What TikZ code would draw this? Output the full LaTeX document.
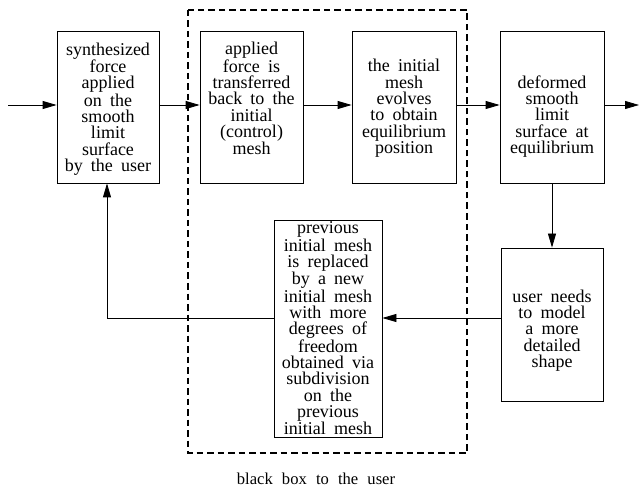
\documentclass[tikz,border=0pt]{standalone}
\usepackage{fontspec}
\setmainfont{Liberation Serif}
\usetikzlibrary{arrows.meta}
\newcommand\boxtextfont{\fontsize{18}{16.3}\selectfont\setlength{\spaceskip}{0.45em plus 0.1em}}
\newcommand\captextfont{\fontsize{16.6}{18}\selectfont\setlength{\spaceskip}{0.55em}}
\tikzset{
  box/.style={draw, line width=0.8pt, inner sep=0pt, minimum width=#1},
  box/.default=103pt,
  txt/.style={align=center, inner sep=0pt, font=\boxtextfont},
  arr/.style={line width=0.8pt, -{Triangle[length=14pt,width=8pt]}},
  ln/.style={line width=0.8pt},
  blackbox/.style={line width=1.2pt, dash pattern=on 6.5pt off 4pt},
  captext/.style={inner sep=0pt, anchor=base, font=\captextfont}
}
\begin{document}
\begin{tikzpicture}[x=1pt, y=-1pt]
\useasboundingbox (0,0) rectangle (640,489);
% boxes
\node[box=102pt, minimum height=152pt] (b1) at (108,107) {};
\node[box=103pt, minimum height=152pt] (b2) at (251.5,107) {};
\node[box=104pt, minimum height=152pt] (b3) at (404,107) {};
\node[box=104pt, minimum height=152pt] (b4) at (552,107) {};
\node[box=108pt, minimum height=217pt] (b5) at (328,328.5) {};
\node[box=102pt, minimum height=153pt] (b6) at (552,324.5) {};
% texts
\node[txt] (t1) at (108,109) {synthesized\\force\\applied\\on the\\smooth\\limit\\surface\\by the user};
\node[txt] (t2) at (251.5,98.5) {applied\\force is\\transferred\\back to the\\initial\\(control)\\mesh};
\node[txt] (t3) at (404,108.4) {the initial\\mesh\\evolves\\to obtain\\equilibrium\\position};
\node[txt] (t4) at (552,116.4) {deformed\\smooth\\limit\\surface at\\equilibrium};
\node[txt] (t5) at (328,328.4) {previous\\initial mesh\\is replaced\\by a new\\initial mesh\\with more\\degrees of\\freedom\\obtained via\\subdivision\\on the\\previous\\initial mesh};
\node[txt] (t6) at (552,330.4) {user needs\\to model\\a more\\detailed\\shape};
% black box
\coordinate (d1) at (188,10);
\coordinate (d2) at (467,453);
\draw[blackbox] (d1) rectangle (d2);
\node[captext] (caption) at (316,484) {black box to the user};
% connectors
\coordinate (in) at (8,105);
\coordinate (out) at (639,105);
\coordinate (c1) at (107,318);
\draw[arr] (in) -- (b1.west |- in);
\draw[arr] (b1.east |- in) -- (b2.west |- in);
\draw[arr] (b2.east |- in) -- (b3.west |- in);
\draw[arr] (b3.east |- in) -- (b4.west |- in);
\draw[arr] (b4.east |- in) -- (out);
\draw[arr] (b4.south) -- (b6.north);
\draw[arr] (b6.west |- c1) -- (b5.east |- c1);
\draw[ln] (b5.west |- c1) -- (c1);
\draw[arr] (c1) -- (c1 |- b1.south);
\end{tikzpicture}
\end{document}
